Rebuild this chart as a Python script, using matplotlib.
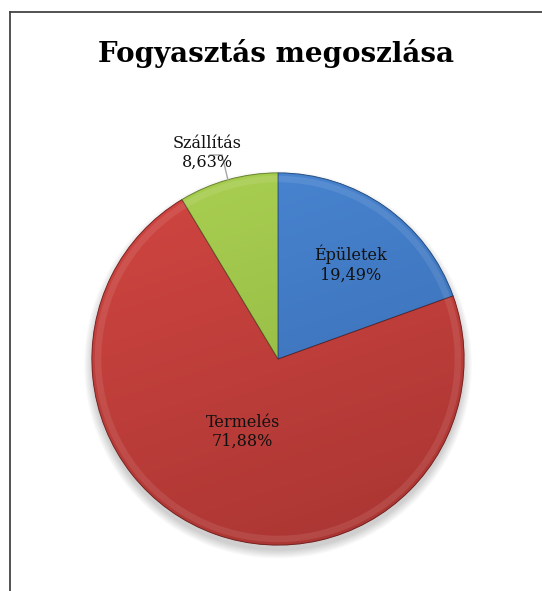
import numpy as np
import matplotlib.pyplot as plt
from matplotlib.lines import Line2D
from matplotlib.colors import to_rgb

# data
labels = ["Épületek", "Termelés", "Szállítás"]
values = [19.49, 71.88, 8.63]
light = ["#4a87d4", "#d24642", "#aad052"]
dark = ["#3668ad", "#a83532", "#8cb03e"]
edges = ["#2f5f9c", "#8e2b29", "#7e9c3a"]

W, H = 542, 591
fig = plt.figure(figsize=(W / 100, H / 100), dpi=100)

# frame (only left and top are visible in the crop)
fig.add_artist(Line2D([10 / W, 10 / W], [0, 1 - 12 / H], color="#444444", lw=1.3))
fig.add_artist(Line2D([10 / W, 1], [1 - 12 / H, 1 - 12 / H], color="#444444", lw=1.3))

fig.text(276 / W, 1 - 53 / H, "Fogyasztás megoszlása", ha="center", va="center",
         fontsize=20, fontweight="bold", family="DejaVu Serif")

R = 186.0
cx, cy = 278, 359
side = 2.4 * R
ax = fig.add_axes([(cx - side / 2) / W, (H - cy - side / 2) / H, side / W, side / H])

# soft shadow under the pie
for k in range(8):
    ax.add_patch(plt.Circle((0, -0.03), 1.0 + 0.006 * k, color="black",
                            alpha=0.025, lw=0, zorder=0))

wedges, _ = ax.pie(values, colors=light, startangle=90, counterclock=False,
                   radius=1.0, wedgeprops=dict(linewidth=0.8))

# gradient fill, light at upper left, darker towards the bottom
yy, xx = np.mgrid[1:-1:200j, -1:1:200j]
t = np.clip((0.75 * (1 - yy) / 2 + 0.25 * (xx + 1) / 2), 0, 1)
for w, lc, dc, ec in zip(wedges, light, dark, edges):
    w.set_edgecolor(ec)
    w.set_zorder(2)
    a, b = np.array(to_rgb(lc)), np.array(to_rgb(dc))
    img = a[None, None, :] * (1 - t[..., None]) + b[None, None, :] * t[..., None]
    im = ax.imshow(img, extent=(-1, 1, -1, 1), zorder=2.5, interpolation="bilinear")
    im.set_clip_path(w)

# rim highlight for a bevel look
ax.pie(values, colors=["none"] * 3, startangle=90, counterclock=False, radius=0.985,
       wedgeprops=dict(width=0.035, linewidth=0, facecolor="white", alpha=0.09, zorder=3))
# wedge outlines on top
ax.pie(values, colors=["none"] * 3, startangle=90, counterclock=False, radius=1.0,
       wedgeprops=dict(linewidth=0.7, facecolor="none", edgecolor="#00000040", zorder=3.5))

ax.set_xlim(-1.2, 1.2)
ax.set_ylim(-1.2, 1.2)
ax.set_aspect("equal")
ax.axis("off")

# label positions (fraction of radius)
label_xy = [(0.39, 0.51), (-0.19, -0.39), (-0.38, 1.11)]
for name, v, (x, y) in zip(labels, values, label_xy):
    txt = name + "\n" + f"{v:.2f}%".replace(".", ",")
    ax.text(x, y, txt, ha="center", va="center", fontsize=11.5,
            family="DejaVu Serif", linespacing=1.15, color="#111111", zorder=5)

# leader line for Szállítás
ax.plot([-0.366, -0.301, -0.269], [1.097, 1.097, 0.962], color="#a6a6a6", lw=1, zorder=4)

fig.savefig("out.png", dpi=100)
